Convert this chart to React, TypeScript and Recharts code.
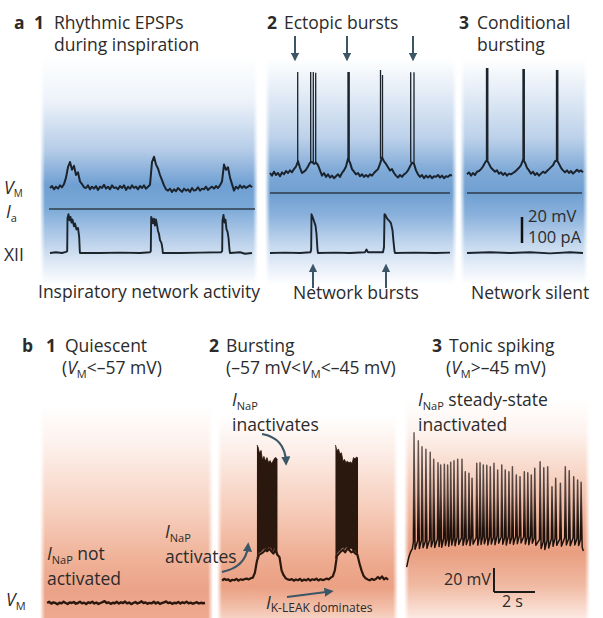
import React from "react";
import { ComposedChart, Line, Area, XAxis, YAxis, ReferenceLine } from "recharts";

// ---------------- panel a1: rhythmic EPSPs (V in mV, sampled every 0.2 s from t = 1 s)
const a1Vm = [
  -60, -58.5, -61, -59, -60.5, -58, -59.5, -57, -52, -44, -40, -46, -43, -50, -48, -55, -57, -59.5,
  -60, -58, -61, -59, -60.5, -58.5, -61.5, -59, -60, -57.5, -60.5, -59, -61, -58, -60, -59.5, -61,
  -58.5, -60, -58, -61.5, -59, -60.5, -58, -60, -59, -61, -58.5, -60, -58, -60.5, -59, -57.5,
  -40, -36, -42, -45, -50, -54, -58, -61,
  -62, -60.5, -63, -61, -62.5, -60, -61.5, -63, -60.5, -62, -61, -63, -60, -62, -61.5, -59.5, -62,
  -60.5, -61, -59, -61.5, -60, -59, -60.5, -58.5, -60, -58,
  -55, -42, -46, -44, -52, -57, -62,
  -59, -60.5, -58, -60, -58.5, -60, -59, -58, -59.5,
];
// XII nerve (integrated, a.u.): [t, value]
const a1Xii = [
  [1.0, 0], [1.6, 0.02], [2.2, 0], [2.6, 0.03], [2.72, 0.05], [2.75, 0.92], [2.85, 1.02], [2.95, 0.86],
  [3.05, 0.95], [3.15, 0.8], [3.25, 0.88], [3.4, 0.7], [3.5, 0.78], [3.65, 0.62], [3.8, 0.66], [3.92, 0.42],
  [3.98, 0.05], [4.0, 0], [6.0, 0], [8.0, 0.01], [10.0, 0], [11.0, 0.02], [11.08, 0.05], [11.12, 0.95],
  [11.22, 0.88], [11.3, 0.78], [11.4, 0.9], [11.5, 0.72], [11.6, 0.88], [11.7, 0.74], [11.8, 0.58],
  [11.9, 0.5], [12.0, 0.34], [12.15, 0.26], [12.25, 0.1], [12.28, 0], [14, 0], [16, 0.01], [18.1, 0.02],
  [18.22, 0.05], [18.25, 0.85], [18.35, 1.0], [18.45, 0.8], [18.55, 0.88], [18.65, 0.62], [18.75, 0.56],
  [18.85, 0.4], [18.95, 0.08], [19.0, 0], [20, 0.02], [20.5, -0.02], [21.2, 0],
];
const a1Ia = [[0.9, 0], [21.5, 0]];

// ---------------- panel a2: ectopic bursts (sampled every 0.2 s from t = 0.5 s)
const a2Vm = [
  -60, -62, -59, -61.5, -60, -62.5, -59.5, -61, -58.5, -60, -58, -59.5, -57, -55, -51, -56, -60, -59,
  -57.5, -55, -52, -51.5, -53, -52, -54, -58, -62, -60, -63, -61, -63.5, -62, -64, -62.5, -61, -63, -60,
  -58, -55, -49, -52, -57, -59, -61, -60, -62.5, -61, -63, -61.5, -63, -61, -62, -60, -58.5, -57, -53,
  -48, -51, -53, -55.5, -58, -57, -60, -62, -63.5, -61.5, -63, -61, -60, -58, -55, -52, -53, -58, -61,
  -63, -61.5, -64, -62, -63.5, -62, -64, -62.5, -63, -61.5, -63.5, -62, -64, -62.5, -63, -61.5, -62,
];
// spikes: [t, foot, peak]
const a2Spikes = [
  [3.27, -51, 17.7], [4.57, -52, 17.7], [4.83, -52, 17.7], [5.07, -53, 17.2], [8.3, -49, 17.7],
  [8.42, -50, 17.7], [11.55, -49, 19.2], [11.75, -49, 15.4], [14.57, -52, 17.5], [14.9, -53, 17.5],
];
const a2Xii = [
  [0.5, 0], [2, 0.01], [3.5, 0], [4.55, 0.02], [4.62, 0.1], [4.65, 1.02], [4.75, 0.95], [4.85, 0.88],
  [4.95, 0.8], [5.05, 0.72], [5.15, 0.5], [5.25, 0.08], [5.3, 0], [7, 0.01], [8.5, 0], [10.0, 0.02],
  [10.15, 0.09], [10.3, 0.02], [11.8, 0.02], [11.9, 0.15], [11.95, 1.02], [12.05, 1.0], [12.15, 0.93],
  [12.3, 0.88], [12.45, 0.84], [12.6, 0.78], [12.75, 0.6], [12.85, 0.3], [12.95, 0.05], [13.0, 0],
  [15, 0.01], [17, 0], [18.5, 0.01],
];
const a2Ia = [[0.5, 0], [18.5, 0]];

// ---------------- panel a3: conditional bursting (sampled every 0.2 s from t = 0.7 s)
const a3Vm = [
  -61, -59.5, -62, -60, -61.5, -59, -58.5, -57, -55, -52, -50, -53, -56, -57.5, -59, -58, -60.5, -59.5,
  -61.5, -60, -62, -60.5, -61, -60, -59, -57.5, -56, -54, -50, -52, -56, -58, -60.5, -59, -61.5, -60,
  -62, -60.5, -59, -60, -58.5, -57, -55.5, -54, -51, -50, -53, -56, -58, -59.5, -58, -60, -58.5, -60.5,
  -59, -57.5, -59, -58, -59.5,
];
const a3Spikes = [
  [2.65, -51, 20.8], [2.78, -50, 20.8], [6.3, -50, 20], [6.43, -51, 20], [9.65, -51, 19.2], [9.78, -50, 19.2],
];
const a3Xii = [[0.7, 0], [3, 0.02], [5, 0], [7, 0.02], [9, -0.01], [11, 0.02], [12.3, 0]];
const a3Ia = [[0.7, 0], [12.2, 0]];

// ---------------- panel b1: quiescent (sampled every 0.1 s from t = 0.35 s)
const b1Vm = [
  -62, -61, -62.5, -61.5, -62, -63, -61.8, -62.3, -61, -62, -62.8, -61.5, -62, -61.2, -62.6, -62, -61,
  -62.3, -61.7, -62.9, -61.4, -62, -61, -62.4, -61.6, -62.8, -62, -61.3, -60.5, -62, -61.5, -62.7, -61.8,
  -62.2, -61, -62.5, -61.4, -62, -60.8, -62.3, -61.6, -62.9, -62, -61.2, -62.4, -61.7, -60.6, -62, -61.5,
  -62.6, -61.9, -62.3, -61, -62.4, -61.3, -62.8, -62, -61.5, -60.7, -62.1, -61.6, -62.7, -61.8, -62.2,
  -61.1, -62.5, -61.4, -62, -60.9, -62.3, -61.7, -62.6, -62, -61.3, -62.4, -61.8, -62.2, -62,
];

// ---------------- panel b2: bursting (sampled every 0.1 s from t = 0.2 s)
const b2Vm = [
  -58.5, -57, -58, -57.5, -59, -57.8, -58.2, -57, -58.6, -57.4, -58, -57.2, -56.8, -57.5,
  -56.5, -56, -52, -42, -37,
  -36, -35, -33, -34, -32, -34, -36, -33, -37, -39,
  -50, -54, -56.5, -57.5,
  -58, -57.2, -58.6, -57.5, -58.2, -57, -58.8, -57.6, -58.3, -57.1, -58.5, -57.4, -58, -56.9, -58.4,
  -57.3, -58.1, -57.7, -56.8, -57.5,
  -56, -55, -50, -38,
  -36, -34, -33, -35, -32, -33, -35, -34, -36,
  -37, -44, -50, -54.5, -56.5,
  -57.5, -58.3, -57, -58, -57.2, -55.5, -57, -55, -57.5, -56.3, -57.8,
];
// burst envelopes: [t, lower, upper]
const b2Burst1 = [
  [1.9, -40, 54.5], [1.95, -36, 53], [2.02, -35, 48], [2.1, -34.5, 50], [2.17, -33, 42], [2.24, -32, 45],
  [2.32, -31.5, 41], [2.39, -33, 44], [2.46, -30.5, 40], [2.54, -31, 41.5], [2.61, -32, 39], [2.68, -34, 41],
  [2.76, -31, 43.5], [2.83, -35, 44], [2.9, -38, 42],
];
const b2Burst2 = [
  [5.73, -40, 54.5], [5.8, -36, 50], [5.88, -34, 51], [5.95, -33, 47], [6.02, -32, 48], [6.1, -31, 41],
  [6.17, -32.5, 42.5], [6.24, -30.5, 40], [6.32, -31, 41], [6.39, -33, 39.5], [6.46, -31.5, 40.5],
  [6.54, -32, 39], [6.61, -34, 44], [6.68, -33, 43], [6.76, -36, 44.5], [6.83, -39, 43.5],
];

// ---------------- panel b3: tonic spiking
const b3Start = [[0.08, -61], [0.18, -53], [0.28, -48], [0.36, -45.5]];
const b3SpikeT = [
  0.44, 0.65, 0.83, 1.02, 1.23, 1.4, 1.61, 1.74, 1.92, 2.08, 2.23, 2.39, 2.57, 2.78, 2.94, 3.12, 3.27, 3.5,
  3.66, 3.82, 3.99, 4.16, 4.34, 4.52, 4.72, 4.89, 5.07, 5.24, 5.43, 5.61, 5.82, 5.99, 6.16, 6.33, 6.59,
  6.77, 6.96, 7.17, 7.35, 7.58, 7.82, 8.01, 8.23, 8.42, 8.59,
];
const b3Peak = [
  51.1, 44.4, 39.4, 37.3, 34.7, 29, 26.1, 24.2, 24.7, 24.2, 26.4, 27.8, 29, 29, 18.6, 17.2, 13.1, 25.6,
  26.1, 24.2, 23.9, 22.8, 25.6, 20, 24.2, 20, 18.6, 22.8, 15.8, 14.4, 18.6, 17.8, 15.8, 21.4, 26.9, 21.9,
  22.8, 6.1, 13.1, 8.9, 22.8, 19.4, 14.4, 11.7, 9.8,
];
const b3Foot = [
  -40, -39, -38.5, -39.5, -38, -38.8, -37.5, -38.2, -37, -37.8, -36.5, -37.2, -36, -36.8, -36.4, -37,
  -35.8, -36.6, -36, -35.5, -36.4, -35.8, -36.2, -35, -35.8, -36.5, -35.2, -36, -35.4, -34.8, -35.6,
  -36.2, -35, -36.8, -38, -40, -39, -37.5, -36.8, -37.6, -36.5, -37.2, -36.4, -37, -38,
];
const b3Trough = [
  -46, -45.5, -44.8, -45.2, -44, -44.6, -43.8, -44.4, -43, -43.6, -42.5, -43.2, -42, -42.8, -42.2, -43,
  -41.8, -42.6, -42, -41.5, -42.4, -41.6, -42.2, -41, -41.8, -42.5, -41.2, -42, -41.4, -40.8, -41.6,
  -42.2, -41, -42.8, -45.5, -46.2, -45, -43.5, -42.8, -43.6, -42.5, -43.2, -42.4, -43, -44,
];
const b3End = [[8.66, -45.5], [8.7, -47.5]];

// ---------- helpers
type Pt = { t: number; v: number | null };
const pairs = (a: number[][]): Pt[] => a.map(([t, v]) => ({ t, v }));
const sampled = (t0: number, dt: number, vs: number[]): Pt[] =>
  vs.map((v, i) => ({ t: Math.round((t0 + i * dt) * 1000) / 1000, v }));
const spikeLines = (sp: number[][]): Pt[] =>
  sp.flatMap(([t, foot, peak]) => [{ t, v: foot }, { t, v: peak }, { t, v: null }]);
const ranges = (a: number[][]) => a.map(([t, lo, hi]) => ({ t, r: [lo, hi] }));
const b3Trace: Pt[] = [
  ...pairs(b3Start),
  ...b3SpikeT.flatMap((t, k) => [
    { t: t - 0.03, v: b3Foot[k] },
    { t, v: b3Peak[k] },
    { t: t + 0.05, v: b3Trough[k] },
  ]),
  ...pairs(b3End),
];

// axis domain so that value v0 lands at page pixel y0 (ppu = pixels per unit)
const dom = (v0: number, y0: number, ppu: number, top: number, h: number): [number, number] => [
  v0 - (top + h - y0) / ppu,
  v0 + (y0 - top) / ppu,
];

const INK = "#1b232c";
const BROWN = "#2a170e";
const ARROW = "#3b5666";
const TXT = "#2b2b2b";

const Trace = (p: { data: Pt[]; axis: string; color?: string; w?: number }) => (
  <Line
    data={p.data}
    dataKey="v"
    yAxisId={p.axis}
    type="linear"
    stroke={p.color ?? INK}
    strokeWidth={p.w ?? 1.6}
    strokeLinejoin="round"
    dot={false}
    activeDot={false}
    connectNulls={false}
    isAnimationActive={false}
  />
);

const Bg = (p: { x: number; y: number; w: number; h: number; bg: string }) => (
  <div
    style={{
      position: "absolute",
      left: p.x,
      top: p.y,
      width: p.w,
      height: p.h,
      background: p.bg,
      WebkitMaskImage:
        "linear-gradient(to right, transparent 0px, #000 5px, #000 calc(100% - 5px), transparent 100%)",
      maskImage: "linear-gradient(to right, transparent 0px, #000 5px, #000 calc(100% - 5px), transparent 100%)",
    }}
  />
);

const M0 = { top: 0, right: 0, bottom: 0, left: 0 };

const ACol = (p: {
  x: number; w: number; vmY: number; iaY: number;
  vm: Pt[]; spikes?: Pt[]; ia: Pt[]; xii: Pt[]; scale?: boolean;
}) => {
  const top = 55, h = 230;
  return (
    <div style={{ position: "absolute", left: p.x, top }}>
      <ComposedChart width={p.w} height={h} margin={M0}>
        <XAxis hide type="number" dataKey="t" domain={[0, p.w / 10]} allowDataOverflow />
        <YAxis hide yAxisId="vm" type="number" domain={dom(-60, p.vmY, 1.3, top, h)} allowDataOverflow />
        <YAxis hide yAxisId="ia" type="number" domain={dom(0, p.iaY, 0.26, top, h)} allowDataOverflow />
        <YAxis hide yAxisId="xii" type="number" domain={dom(0, 253, 38, top, h)} allowDataOverflow />
        <Trace data={p.vm} axis="vm" w={2} />
        {p.spikes && <Trace data={p.spikes} axis="vm" w={1.3} />}
        <Trace data={p.ia} axis="ia" w={1.4} color="#2c3b4a" />
        <Trace data={p.xii} axis="xii" w={1.9} />
        {p.scale && (
          <ReferenceLine
            yAxisId="vm"
            segment={[{ x: 6.2, y: -113.85 }, { x: 6.2, y: -93.85 }]}
            stroke="#111"
            strokeWidth={2.5}
            ifOverflow="visible"
          />
        )}
      </ComposedChart>
    </div>
  );
};

const BCol = (p: { x: number; w: number; v0: number; y0: number; children: React.ReactNode }) => {
  const top = 400, h = 218;
  return (
    <div style={{ position: "absolute", left: p.x, top }}>
      <ComposedChart width={p.w} height={h} margin={M0}>
        <XAxis hide type="number" dataKey="t" domain={[0, p.w / 20.5]} allowDataOverflow />
        <YAxis hide yAxisId="vm" type="number" domain={dom(p.v0, p.y0, 1.2, top, h)} allowDataOverflow />
        {p.children}
      </ComposedChart>
    </div>
  );
};

const F = { fontFamily: "'Open Sans', 'Noto Sans', sans-serif", fontSize: 17.5, fill: TXT };
const B = { fontWeight: 700 as const };

const Sub = (p: { s: string; size?: number; dy?: number }) => (
  <tspan fontSize={p.size ?? 11} dy={p.dy ?? 4}>{p.s}</tspan>
);

export default function App() {
  const blueA1 =
    "linear-gradient(to bottom, #ffffff 0px, #eef3fa 45px, #b5cce8 95px, #6f9fd2 130px, #79a8d7 152px, #abc7e6 178px, #dae6f4 205px, #ffffff 230px)";
  const blueA2 =
    "linear-gradient(to bottom, #ffffff 0px, #e9f0f8 28px, #bcd1ea 80px, #80aad7 112px, #6f9fd2 135px, #8ab1dc 157px, #c1d6ed 185px, #e6eef8 208px, #ffffff 227px)";
  const orB1 =
    "linear-gradient(to bottom, #ffffff 0px, #fdf1ec 40px, #f7d3c3 100px, #f0b49b 150px, #eba388 185px, #eea98f 213px)";
  const orB2 =
    "linear-gradient(to bottom, #ffffff 0px, #fcece5 40px, #f5c9b6 100px, #eda98d 150px, #eaa083 172px, #f2bea8 192px, #f6d2c3 203px)";
  const orB3 =
    "linear-gradient(to bottom, #ffffff 0px, #fdf3ee 32px, #f6d0bf 80px, #eeae94 128px, #e99e80 152px, #f0b9a2 185px, #fce9e1 218px)";

  return (
    <div style={{ position: "absolute", left: 0, top: 0, width: 603, height: 618, background: "#fff", overflow: "hidden" }}>
      <svg width={0} height={0} style={{ position: "absolute" }}>
        <defs>
          <linearGradient id="spikeInk" x1="0" y1="0" x2="0" y2="1">
            <stop offset="0" stopColor="#6f605c" />
            <stop offset="0.45" stopColor="#4f3f3a" />
            <stop offset="0.72" stopColor="#1f120c" />
            <stop offset="1" stopColor="#1f120c" />
          </linearGradient>
        </defs>
      </svg>

      <Bg x={40} y={55} w={218} h={230} bg={blueA1} />
      <Bg x={265} y={58} w={192} h={227} bg={blueA2} />
      <Bg x={460} y={58} w={128} h={227} bg={blueA2} />
      <Bg x={40} y={405} w={173} h={213} bg={orB1} />
      <Bg x={217} y={415} w={181} h={203} bg={orB2} />
      <Bg x={404} y={400} w={186} h={218} bg={orB3} />

      <ACol x={40} w={218} vmY={188} iaY={209} vm={sampled(1.0, 0.2, a1Vm)} ia={pairs(a1Ia)} xii={pairs(a1Xii)} />
      <ACol
        x={265} w={192} vmY={173} iaY={193}
        vm={sampled(0.5, 0.2, a2Vm)} spikes={spikeLines(a2Spikes)} ia={pairs(a2Ia)} xii={pairs(a2Xii)}
      />
      <ACol
        x={460} w={128} vmY={173} iaY={193}
        vm={sampled(0.7, 0.2, a3Vm)} spikes={spikeLines(a3Spikes)} ia={pairs(a3Ia)} xii={pairs(a3Xii)} scale
      />

      <BCol x={40} w={173} v0={-62} y0={603}>
        <Trace data={sampled(0.35, 0.1, b1Vm)} axis="vm" color={BROWN} w={2.4} />
      </BCol>
      <BCol x={218} w={180} v0={-58} y0={580}>
        <Area data={ranges(b2Burst1)} dataKey="r" yAxisId="vm" type="linear" stroke={BROWN} strokeWidth={0.8} fill={BROWN} fillOpacity={1} dot={false} activeDot={false} isAnimationActive={false} />
        <Area data={ranges(b2Burst2)} dataKey="r" yAxisId="vm" type="linear" stroke={BROWN} strokeWidth={0.8} fill={BROWN} fillOpacity={1} dot={false} activeDot={false} isAnimationActive={false} />
        <Trace data={sampled(0.2, 0.1, b2Vm)} axis="vm" color={BROWN} w={2.2} />
      </BCol>
      <BCol x={405} w={185} v0={-45} y0={548}>
        <Trace data={b3Trace} axis="vm" color="url(#spikeInk)" w={1.5} />
        <ReferenceLine yAxisId="vm" segment={[{ x: 4.34, y: -81.67 }, { x: 4.34, y: -61.67 }]} stroke="#1a1a1a" strokeWidth={2} ifOverflow="visible" />
        <ReferenceLine yAxisId="vm" segment={[{ x: 4.34, y: -81.67 }, { x: 6.34, y: -81.67 }]} stroke="#1a1a1a" strokeWidth={2} ifOverflow="visible" />
      </BCol>

      <svg width={603} height={618} style={{ position: "absolute", left: 0, top: 0, pointerEvents: "none" }}>
        <defs>
          <marker id="ah" viewBox="0 0 10 10" refX="6" refY="5" markerWidth="4.2" markerHeight="4.2" orient="auto">
            <path d="M0,0 L10,5 L0,10 z" fill={ARROW} />
          </marker>
        </defs>

        {/* panel a headings */}
        <g style={F}>
          <text x={14} y={29} {...B}>a</text>
          <text x={34} y={29} {...B}>1</text>
          <text x={54} y={29}>Rhythmic EPSPs</text>
          <text x={54} y={51}>during inspiration</text>
          <text x={267} y={29} {...B}>2</text>
          <text x={284} y={29}>Ectopic bursts</text>
          <text x={459} y={29} {...B}>3</text>
          <text x={477} y={29}>Conditional</text>
          <text x={477} y={51}>bursting</text>

          <text x={4} y={194}><tspan fontStyle="italic">V</tspan><Sub s="M" size={10} dy={3} /></text>
          <text x={6} y={218}><tspan fontStyle="italic">I</tspan><Sub s="a" /></text>
          <text x={4} y={261}>XII</text>

          <text x={38} y={298}>Inspiratory network activity</text>
          <text x={293} y={299}>Network bursts</text>
          <text x={471} y={299}>Network silent</text>
          <text x={528} y={222} fontSize={16.5}>20 mV</text>
          <text x={528} y={243} fontSize={16.5}>100 pA</text>

          {/* panel b headings */}
          <text x={22} y={352} {...B}>b</text>
          <text x={46} y={352} {...B}>1</text>
          <text x={65} y={352}>Quiescent</text>
          <text x={62} y={374}>(<tspan fontStyle="italic">V</tspan><Sub s="M" /><tspan dy={-4}>&lt;–57 mV)</tspan></text>
          <text x={209} y={352} {...B}>2</text>
          <text x={226} y={352}>Bursting</text>
          <text x={226} y={374}>(–57 mV&lt;<tspan fontStyle="italic">V</tspan><Sub s="M" /><tspan dy={-4}>&lt;–45 mV)</tspan></text>
          <text x={432} y={352} {...B}>3</text>
          <text x={449} y={352}>Tonic spiking</text>
          <text x={446} y={374}>(<tspan fontStyle="italic">V</tspan><Sub s="M" /><tspan dy={-4}>&gt;–45 mV)</tspan></text>

          <text x={232} y={406}><tspan fontStyle="italic">I</tspan><Sub s="NaP" /></text>
          <text x={232} y={431}>inactivates</text>
          <text x={418} y={406}><tspan fontStyle="italic">I</tspan><Sub s="NaP" /><tspan dy={-4}> steady-state</tspan></text>
          <text x={418} y={431}>inactivated</text>
          <text x={47} y={560}><tspan fontStyle="italic">I</tspan><Sub s="NaP" /><tspan dy={-4}> not</tspan></text>
          <text x={47} y={585}>activated</text>
          <text x={165} y={538}><tspan fontStyle="italic">I</tspan><Sub s="NaP" /></text>
          <text x={165} y={563}>activates</text>
          <text x={266} y={609}><tspan fontStyle="italic">I</tspan><Sub s="K-LEAK dominates" size={12} dy={3} /></text>
          <text x={6} y={606}><tspan fontStyle="italic">V</tspan><Sub s="M" /></text>
          <text x={444} y={585} fontSize={16}>20 mV</text>
          <text x={502} y={607} fontSize={16}>2 s</text>
        </g>

        {/* arrows */}
        <g stroke={ARROW} strokeWidth={2} fill="none" markerEnd="url(#ah)">
          <path d="M295,36 L295,58" />
          <path d="M347,36 L347,58" />
          <path d="M413,36 L413,58" />
          <path d="M313,288 L313,267" />
          <path d="M386,288 L386,267" />
          <path d="M262,434 Q285,438 286,462" strokeWidth={2.2} />
          <path d="M222,572 Q246,567 248,546" strokeWidth={2.2} />
          <path d="M287,597 L330,591.5" strokeWidth={2.2} />
        </g>
      </svg>
    </div>
  );
}
